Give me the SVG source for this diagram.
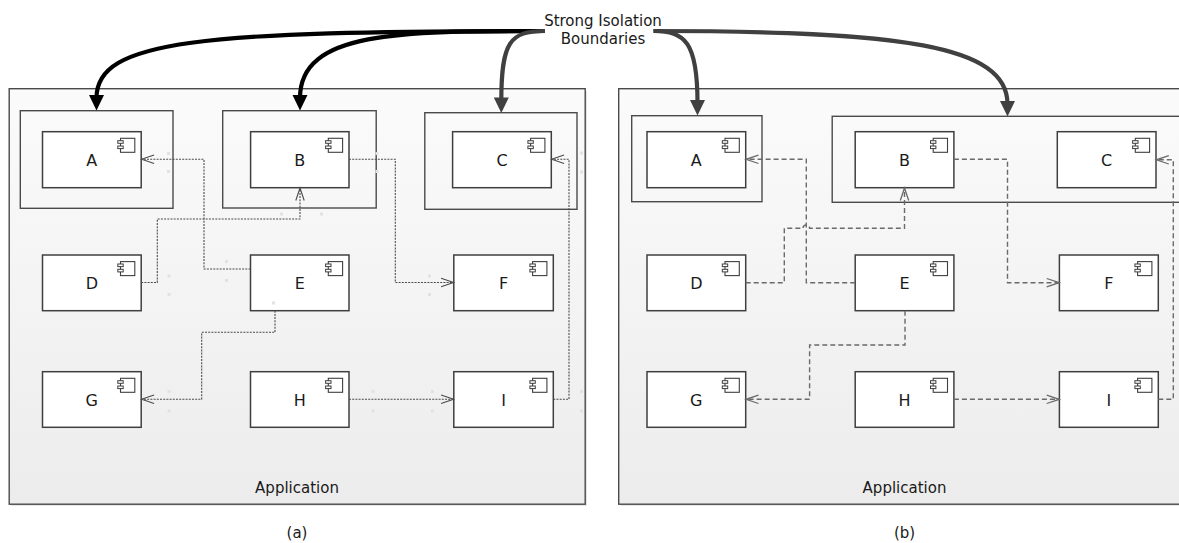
<svg xmlns="http://www.w3.org/2000/svg" xmlns:xlink="http://www.w3.org/1999/xlink" width="1179" height="543" viewBox="0 0 1179 543">
<style>
  text { font-family: "DejaVu Sans", Verdana, sans-serif; font-size: 15px; fill: #1a1a1a; text-anchor: middle; }
  .lbl { font-size: 16px; }
  .panel { fill: url(#pg); stroke: #4a4a4a; stroke-width: 1.4; }
  .shadow { fill: #e6e6e6; }
  .bound { fill: none; stroke: #4a4a4a; stroke-width: 1.4; }
  .comp { fill: #ffffff; stroke: #3f3f3f; stroke-width: 1.5; }
  .dotA { fill: none; stroke: #4a4a4a; stroke-width: 1.1; stroke-dasharray: 2 1.2; }
  .dashB { fill: none; stroke: #6a6a6a; stroke-width: 1.4; stroke-dasharray: 5 3; }
  .big1 { fill: none; stroke: #000000; stroke-width: 4.2; }
  .big2 { fill: none; stroke: #404040; stroke-width: 4.2; }
  .hdl { fill: #e2e2e2; }
</style>
<defs>
  <linearGradient id="pg" x1="0" y1="0" x2="0" y2="1">
    <stop offset="0" stop-color="#fbfbfb"/>
    <stop offset="1" stop-color="#ececec"/>
  </linearGradient>
  <g id="icon">
    <rect x="-20.7" y="6.6" width="14.3" height="14" fill="#ffffff" stroke="#3f3f3f" stroke-width="1.1"/>
    <rect x="-23.4" y="9" width="5.4" height="2.6" fill="#ffffff" stroke="#3f3f3f" stroke-width="1"/>
    <rect x="-23.4" y="14.3" width="5.4" height="2.6" fill="#ffffff" stroke="#3f3f3f" stroke-width="1"/>
  </g>
  <marker id="openA" markerUnits="userSpaceOnUse" markerWidth="16" markerHeight="12" viewBox="-14 -6 16 12" refX="0" refY="0" orient="auto">
    <path d="M-12.5,-4.2 L0,0 L-12.5,4.2" fill="none" stroke="#4a4a4a" stroke-width="1.1"/>
  </marker>
  <marker id="openB" markerUnits="userSpaceOnUse" markerWidth="16" markerHeight="12" viewBox="-14 -6 16 12" refX="0" refY="0" orient="auto">
    <path d="M-12.5,-4.2 L0,0 L-12.5,4.2" fill="none" stroke="#6a6a6a" stroke-width="1.3"/>
  </marker>
  <marker id="fill1" markerUnits="userSpaceOnUse" markerWidth="20" markerHeight="18" viewBox="-4 -9 20 18" refX="0" refY="0" orient="auto">
    <path d="M12.5,0 L-3,-7.5 L-3,7.5 Z" fill="#000000"/>
  </marker>
  <marker id="fill2" markerUnits="userSpaceOnUse" markerWidth="20" markerHeight="18" viewBox="-4 -9 20 18" refX="0" refY="0" orient="auto">
    <path d="M12.5,0 L-3,-7.5 L-3,7.5 Z" fill="#404040"/>
  </marker>
</defs>

<!-- Panel (a) -->
<g id="panel-a">
  <rect class="shadow" x="11" y="91" width="576" height="415"/>
  <rect class="panel" x="9.2" y="88.7" width="576" height="415.5"/>
  <text x="297" y="493">Application</text>
</g>
<g id="boundary-a-A"><rect class="bound" x="20.3" y="110.7" width="152.7" height="97.6"/></g>
<g id="boundary-a-B"><rect class="bound" x="222.7" y="110.7" width="153.5" height="97.3"/></g>
<g id="boundary-a-C"><rect class="bound" x="424.8" y="112.7" width="152.2" height="96.6"/></g>

<g id="a-A"><rect class="comp" x="42.5" y="131.7" width="98.7" height="56"/><use xlink:href="#icon" href="#icon" x="141.2" y="131.7"/><text class="lbl" x="91.8" y="165.5">A</text></g>
<g id="a-B"><rect class="comp" x="250.6" y="131.7" width="98.4" height="56"/><use xlink:href="#icon" href="#icon" x="349" y="131.7"/><text class="lbl" x="299.8" y="165.5">B</text></g>
<g id="a-C"><rect class="comp" x="452.6" y="131.7" width="98.7" height="56"/><use xlink:href="#icon" href="#icon" x="551.3" y="131.7"/><text class="lbl" x="502" y="165.5">C</text></g>
<g id="a-D"><rect class="comp" x="42.5" y="255" width="98.7" height="55.7"/><use xlink:href="#icon" href="#icon" x="141.2" y="255"/><text class="lbl" x="91.8" y="289">D</text></g>
<g id="a-E"><rect class="comp" x="250.5" y="255" width="98.5" height="55.7"/><use xlink:href="#icon" href="#icon" x="349" y="255"/><text class="lbl" x="299.8" y="289">E</text></g>
<g id="a-F"><rect class="comp" x="453.8" y="255" width="99.5" height="55.7"/><use xlink:href="#icon" href="#icon" x="553.3" y="255"/><text class="lbl" x="503.5" y="289">F</text></g>
<g id="a-G"><rect class="comp" x="42.5" y="371.7" width="98.7" height="55.6"/><use xlink:href="#icon" href="#icon" x="141.2" y="371.7"/><text class="lbl" x="91.8" y="405.5">G</text></g>
<g id="a-H"><rect class="comp" x="250.5" y="371.7" width="98.5" height="55.6"/><use xlink:href="#icon" href="#icon" x="349" y="371.7"/><text class="lbl" x="299.8" y="405.5">H</text></g>
<g id="a-I"><rect class="comp" x="453.8" y="371.7" width="99.5" height="55.6"/><use xlink:href="#icon" href="#icon" x="553.3" y="371.7"/><text class="lbl" x="503.5" y="405.5">I</text></g>

<!-- Panel (b) -->
<g id="panel-b">
  <rect class="shadow" x="620.5" y="91" width="580" height="415"/>
  <rect class="panel" x="618.7" y="88.7" width="580" height="415.5"/>
  <text x="904.5" y="493">Application</text>
</g>
<g id="boundary-b-A"><rect class="bound" x="631.7" y="115.7" width="130.3" height="86"/></g>
<g id="boundary-b-BC"><rect class="bound" x="832.2" y="116.3" width="360" height="86"/></g>

<g id="b-A"><rect class="comp" x="647" y="131.7" width="98.7" height="56"/><use xlink:href="#icon" href="#icon" x="745.7" y="131.7"/><text class="lbl" x="696.3" y="165.5">A</text></g>
<g id="b-B"><rect class="comp" x="855.2" y="131.7" width="98.7" height="56"/><use xlink:href="#icon" href="#icon" x="953.9" y="131.7"/><text class="lbl" x="904.5" y="165.5">B</text></g>
<g id="b-C"><rect class="comp" x="1057.3" y="131.7" width="98.7" height="56"/><use xlink:href="#icon" href="#icon" x="1156" y="131.7"/><text class="lbl" x="1106.6" y="165.5">C</text></g>
<g id="b-D"><rect class="comp" x="647" y="255" width="98.7" height="55.7"/><use xlink:href="#icon" href="#icon" x="745.7" y="255"/><text class="lbl" x="696.3" y="289">D</text></g>
<g id="b-E"><rect class="comp" x="855.2" y="255" width="98.7" height="55.7"/><use xlink:href="#icon" href="#icon" x="953.9" y="255"/><text class="lbl" x="904.5" y="289">E</text></g>
<g id="b-F"><rect class="comp" x="1059.4" y="255" width="98.9" height="55.7"/><use xlink:href="#icon" href="#icon" x="1158.3" y="255"/><text class="lbl" x="1108.8" y="289">F</text></g>
<g id="b-G"><rect class="comp" x="647" y="371.7" width="98.7" height="55.6"/><use xlink:href="#icon" href="#icon" x="745.7" y="371.7"/><text class="lbl" x="696.3" y="405.5">G</text></g>
<g id="b-H"><rect class="comp" x="855.2" y="371.7" width="98.7" height="55.6"/><use xlink:href="#icon" href="#icon" x="953.9" y="371.7"/><text class="lbl" x="904.5" y="405.5">H</text></g>
<g id="b-I"><rect class="comp" x="1059.4" y="371.7" width="98.9" height="55.6"/><use xlink:href="#icon" href="#icon" x="1158.3" y="371.7"/><text class="lbl" x="1108.8" y="405.5">I</text></g>

<!-- handle marks (a) -->
<g id="handles">
  <rect class="hdl" x="167" y="152" width="3" height="3"/>
  <rect class="hdl" x="167" y="170" width="3" height="3"/>
  <rect class="hdl" x="375.5" y="152" width="3" height="3"/>
  <rect class="hdl" x="375.5" y="170" width="3" height="3"/>
  <rect class="hdl" x="580" y="151.5" width="3" height="3"/>
  <rect class="hdl" x="580" y="170.5" width="3" height="3"/>
  <rect class="hdl" x="280" y="212.5" width="3" height="3"/>
  <rect class="hdl" x="320" y="212.5" width="3" height="3"/>
  <rect class="hdl" x="225" y="260" width="3" height="3"/>
  <rect class="hdl" x="225" y="279" width="3" height="3"/>
  <rect class="hdl" x="167.5" y="274.5" width="3" height="3"/>
  <rect class="hdl" x="167.5" y="293" width="3" height="3"/>
  <rect class="hdl" x="428" y="274.5" width="3" height="3"/>
  <rect class="hdl" x="428" y="293" width="3" height="3"/>
  <rect class="hdl" x="272" y="301.5" width="3" height="3"/>
  <rect class="hdl" x="167.5" y="390" width="3" height="3"/>
  <rect class="hdl" x="167.5" y="409.5" width="3" height="3"/>
  <rect class="hdl" x="371.5" y="390" width="3" height="3"/>
  <rect class="hdl" x="371.5" y="409.5" width="3" height="3"/>
  <rect class="hdl" x="431" y="390" width="3" height="3"/>
  <rect class="hdl" x="431" y="409.5" width="3" height="3"/>
  <rect class="hdl" x="580" y="390" width="3" height="3"/>
  <rect class="hdl" x="580" y="409.5" width="3" height="3"/>
</g>

<!-- connectors -->
<g id="connectors">
  <!-- panel (a) dependencies -->
  <path class="dotA" d="M250.5,269 H204 V159.3 H141.6" marker-end="url(#openA)"/>
  <path class="dotA" d="M141.2,282.5 H157.3 V219 H300 V188" marker-end="url(#openA)"/>
  <path class="dotA" d="M349,159.3 H395.3 V282.5 H453.6" marker-end="url(#openA)"/>
  <path class="dotA" d="M275,310.7 V332.3 H201.7 V399.3 H141.6" marker-end="url(#openA)"/>
  <path class="dotA" d="M349,399.3 H453.6" marker-end="url(#openA)"/>
  <path class="dotA" d="M553.3,399.3 H569 V159.3 H551.6" marker-end="url(#openA)"/>
  <!-- panel (b) dependencies -->
  <path class="dashB" d="M855.2,282.7 H806.3 V159.3 H746" marker-end="url(#openB)"/>
  <path class="dashB" d="M745.7,282.7 H784.3 V228.3 H803 A3.3,3.3 0 0 1 809.6,228.3 H904.5 V188" marker-end="url(#openB)"/>
  <path class="dashB" d="M953.9,159.3 H1007.5 V282.7 H1059.2" marker-end="url(#openB)"/>
  <path class="dashB" d="M905,310.7 V345 H809.6 V399.3 H746" marker-end="url(#openB)"/>
  <path class="dashB" d="M953.9,399.3 H1059.2" marker-end="url(#openB)"/>
  <path class="dashB" d="M1158.3,399.3 H1173.3 V159.8 H1156.3" marker-end="url(#openB)"/>
  <!-- strong isolation boundary arrows -->
  <path class="big1" d="M545,31 C200,31 96.5,40 96.5,98" marker-end="url(#fill1)"/>
  <path class="big1" d="M545,31 C400,31 300,31 300,98" marker-end="url(#fill1)"/>
  <path class="big2" d="M545,31 C510,31 501.3,42 501.3,100.5" marker-end="url(#fill2)"/>
  <path class="big2" d="M653.5,31 C685,31 697.5,42 697.5,103" marker-end="url(#fill2)"/>
  <path class="big2" d="M653.5,31 C900,31 1007.5,45 1007.5,104" marker-end="url(#fill2)"/>
</g>

<g id="label-boundaries">
  <text x="603" y="26">Strong Isolation</text>
  <text x="603" y="44.3">Boundaries</text>
</g>
<g id="captions">
  <text x="297" y="538">(a)</text>
  <text x="904.5" y="538">(b)</text>
</g>
</svg>
